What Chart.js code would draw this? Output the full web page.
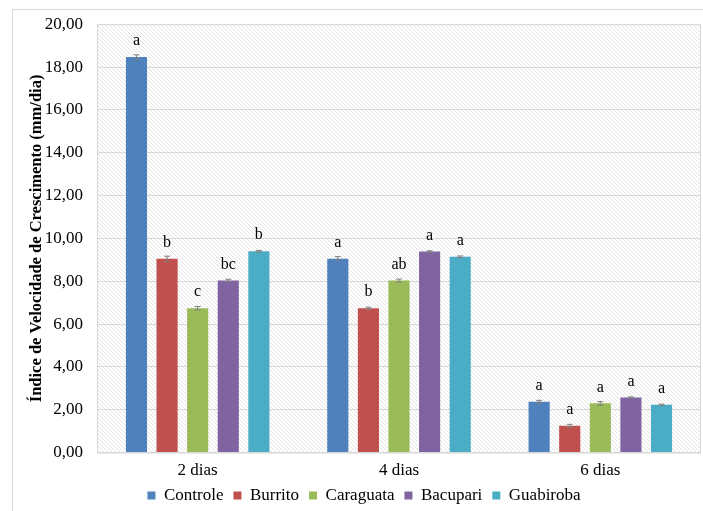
<!DOCTYPE html>
<html>
<head>
  <meta charset="utf-8">
  <title></title>
  <style>
    html, body { margin: 0; padding: 0; background: #fff; }
    #wrap { width: 703px; height: 511px; }
  </style>
</head>
<body>
<div id="wrap"><canvas id="ivcChart"></canvas></div>
<script src="https://cdn.jsdelivr.net/npm/chart.js"></script>
<script type="text/javascript">
    // data
    const dias = ['2 dias', '4 dias', '6 dias'];
    const controle   = [18.47, 9.05, 2.37];
    const burrito    = [9.05, 6.74, 1.25];
    const caraguata  = [6.74, 8.03, 2.30];
    const bacupari   = [8.04, 9.39, 2.57];
    const guabiroba  = [9.40, 9.14, 2.23];
    const errControle  = [0.10, 0.10, 0.07];
    const errBurrito   = [0.12, 0.05, 0.07];
    const errCaraguata = [0.08, 0.07, 0.08];
    const errBacupari  = [0.05, 0.03, 0.03];
    const errGuabiroba = [0.04, 0.04, 0.03];
    const letrasControle  = ['a', 'a', 'a'];
    const letrasBurrito   = ['b', 'b', 'a'];
    const letrasCaraguata = ['c', 'ab', 'a'];
    const letrasBacupari  = ['bc', 'a', 'a'];
    const letrasGuabiroba = ['b', 'a', 'a'];

    const serif = "'Liberation Serif', 'Times New Roman', serif";

    function serie(label, values, err, letras, color) {
      return {
        label: label,
        data: values,
        err: err,
        letras: letras,
        backgroundColor: color,
        borderWidth: 0,
        categoryPercentage: 0.76,
        barPercentage: 0.69
      };
    }

    const data = {
      labels: dias,
      datasets: [
        serie('Controle', controle, errControle, letrasControle, '#4f81bd'),
        serie('Burrito', burrito, errBurrito, letrasBurrito, '#c0504d'),
        serie('Caraguata', caraguata, errCaraguata, letrasCaraguata, '#9bbb59'),
        serie('Bacupari', bacupari, errBacupari, letrasBacupari, '#8064a2'),
        serie('Guabiroba', guabiroba, errGuabiroba, letrasGuabiroba, '#4bacc6')
      ]
    };

    // hatched plot background
    function hatch() {
      const c = document.createElement('canvas');
      c.width = 4; c.height = 4;
      const x = c.getContext('2d');
      x.fillStyle = '#ffffff';
      x.fillRect(0, 0, 4, 4);
      x.strokeStyle = '#e3e3e3';
      x.lineWidth = 1;
      x.beginPath();
      x.moveTo(-1, -1); x.lineTo(5, 5);
      x.moveTo(-1, 3); x.lineTo(1, 5);
      x.moveTo(3, -1); x.lineTo(5, 1);
      x.stroke();
      return c;
    }

    const fundo = {
      id: 'fundo',
      afterLayout(chart) {
        // legend sits closer to the axis labels than Chart.js puts it
        chart.legend.top -= 12;
        chart.legend.bottom -= 12;
      },
      beforeDraw(chart) {
        const ctx = chart.ctx;
        const a = chart.chartArea;
        ctx.save();
        ctx.strokeStyle = '#d9d9d9';
        ctx.lineWidth = 1;
        ctx.strokeRect(12.5, 9.5, 720, 540);
        ctx.fillStyle = ctx.createPattern(hatch(), 'repeat');
        ctx.fillRect(a.left, a.top, a.right - a.left, a.bottom - a.top);
        ctx.strokeStyle = '#d9d9d9';
        ctx.strokeRect(a.left + 0.5, a.top + 0.5, a.right - a.left - 1, a.bottom - a.top);
        ctx.restore();
      }
    };

    // error bars and letters
    const extras = {
      id: 'extras',
      afterDatasetsDraw(chart) {
        const ctx = chart.ctx;
        const y = chart.scales.y;
        ctx.save();
        chart.data.datasets.forEach((ds, i) => {
          const meta = chart.getDatasetMeta(i);
          meta.data.forEach((bar, j) => {
            const v = ds.data[j];
            const e = ds.err[j];
            const y1 = y.getPixelForValue(v + e);
            const y2 = y.getPixelForValue(v - e);
            ctx.strokeStyle = '#7f7f7f';
            ctx.lineWidth = 1;
            ctx.beginPath();
            ctx.moveTo(bar.x, y1); ctx.lineTo(bar.x, y2);
            ctx.moveTo(bar.x - 3, y1); ctx.lineTo(bar.x + 3, y1);
            ctx.moveTo(bar.x - 3, y2); ctx.lineTo(bar.x + 3, y2);
            ctx.stroke();
            ctx.fillStyle = '#000';
            ctx.font = '16px ' + serif;
            ctx.textAlign = 'center';
            ctx.textBaseline = 'middle';
            ctx.fillText(ds.letras[j], bar.x, y.getPixelForValue(v) - 16);
          });
        });
        ctx.restore();
      }
    };

    const config = {
      type: 'bar',
      data: data,
      options: {
        responsive: true,
        maintainAspectRatio: false,
        animation: false,
        layout: { padding: { left: 27, right: 2, top: 24, bottom: -15 } },
        plugins: {
          legend: {
            position: 'bottom',
            labels: {
              boxWidth: 8,
              boxHeight: 8,
              padding: 10,
              color: '#000',
              font: { family: serif, size: 17 }
            }
          },
          tooltip: { enabled: false }
        },
        scales: {
          x: {
            grid: { display: false, drawTicks: false },
            border: { display: false },
            ticks: { color: '#000', padding: 8, font: { family: serif, size: 17 } }
          },
          y: {
            min: 0,
            max: 20,
            afterFit(scale) { scale.width = 70; },
            grid: { color: '#d9d9d9', drawTicks: false },
            border: { display: false },
            ticks: {
              stepSize: 2,
              padding: 14,
              color: '#000',
              font: { family: serif, size: 17 },
              callback: v => v.toFixed(2).replace('.', ',')
            },
            title: {
              display: true,
              text: 'Índice de Velocidade de Crescimento (mm/dia)',
              color: '#000',
              font: { family: serif, size: 16.5, weight: 'bold' },
              padding: { top: 0, bottom: 0 }
            }
          }
        }
      },
      plugins: [fundo, extras]
    };

    const ivcChart = new Chart(document.getElementById('ivcChart'), config);
</script>
</body>
</html>
